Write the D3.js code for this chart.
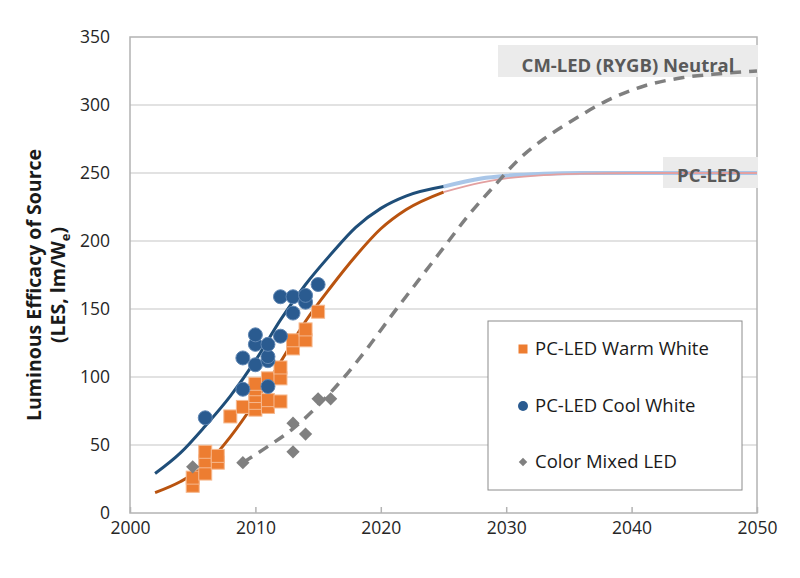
<!DOCTYPE html>
<html><head><meta charset="utf-8">
<script src="https://cdn.jsdelivr.net/npm/d3@7"></script>
<style>
html,body{margin:0;padding:0;background:#fff;}
svg{display:block;font-family:"Open Sans",sans-serif;}
</style></head>
<body><svg id="c" width="800" height="578"></svg>
<script>
// ---- data ----
const xTicks = [2000, 2010, 2020, 2030, 2040, 2050];
const yTicks = [0, 50, 100, 150, 200, 250, 300, 350];

const warmYears  = [2005,2005,2006,2006,2006,2007,2007,2008,2009,2010,2010,2010,2010,2010,2011,2011,2011,2012,2012,2012,2013,2013,2014,2014,2015];
const warmValues = [20,26,29,38,45,37,42,71,78,76,81,86,91,95,78,83,99,82,99,107,121,127,127,135,148];

const coolYears  = [2006,2009,2009,2010,2010,2010,2011,2011,2011,2011,2012,2012,2013,2013,2014,2014,2015];
const coolValues = [70,91,114,109,124,131,93,112,115,124,130,159,147,159,155,160,168];

const mixedYears  = [2005,2009,2013,2013,2014,2015,2016];
const mixedValues = [34,37,45,66,58,84,84];

const fitYears  = [2002,2004,2006,2008,2010,2012,2014,2016,2018,2020,2022,2025];
const coolFit   = [29,44,64,86,112,142,168,190,210,224,233,240];
const warmFit   = [15,23,35,56,82,111,141,166,189,209,223,236];

const extYears  = [2025,2028,2030,2033,2036,2040,2045,2050];
const coolExt   = [240,246,248,249.5,250,250,250,250];
const warmExt   = [236,243,246,248.5,249.5,250,250,250];

const mixedFitYears = [2009,2011,2013,2015,2017,2019,2021,2023,2025,2027,2029,2031,2033,2035,2038,2041,2044,2047,2050];
const mixedFit      = [37,49,62,79,99,122,147,171,195,219,240,260,275,287,303,314,320,323,325];

const legendLabels = ["PC-LED Warm White","PC-LED Cool White","Color Mixed LED"];

// ---- chart ----
const svg = d3.select("#c");
const L = 130, R = 757, T = 37, B = 513;
const x = d3.scaleLinear().domain([2000, 2050]).range([L, R]);
const y = d3.scaleLinear().domain([0, 350]).range([B, T]);

// grid
svg.append("g").selectAll("line").data(yTicks.filter(v => v > 0 && v < 350)).join("line")
  .attr("x1", L).attr("x2", R).attr("y1", d => y(d)).attr("y2", d => y(d))
  .attr("stroke", "#d9d9d9").attr("stroke-width", 1.5);

// border
svg.append("rect").attr("x", L).attr("y", T).attr("width", R - L).attr("height", B - T)
  .attr("fill", "none").attr("stroke", "#b3b3b3").attr("stroke-width", 1.5);

// axes
const gy = svg.append("g").attr("transform", `translate(${L},0)`)
  .call(d3.axisLeft(y).tickValues(yTicks).tickSize(0).tickPadding(20));
const gx = svg.append("g").attr("transform", `translate(0,${B})`)
  .call(d3.axisBottom(x).tickValues(xTicks).tickFormat(d3.format("d")).tickSizeInner(-6).tickSizeOuter(0).tickPadding(9));
[gx, gy].forEach(g => {
  g.select(".domain").remove();
  g.selectAll("text").attr("font-size", 17.5).attr("fill", "#262626").attr("font-family", "Open Sans");
  g.selectAll("line").attr("stroke", "#b3b3b3").attr("stroke-width", 1.5);
});

// y title
const yt = svg.append("text").attr("transform", "translate(41,285) rotate(-90)")
  .attr("text-anchor", "middle").attr("font-weight", "bold").attr("font-size", 19.5).attr("fill", "#1a1a1a");
yt.append("tspan").attr("x", 0).attr("y", 0).text("Luminous Efficacy of Source");
const t2 = yt.append("tspan").attr("x", 0).attr("y", 24);
t2.append("tspan").text("(LES, lm/W");
t2.append("tspan").attr("font-size", 13).attr("dy", 5).text("e");
t2.append("tspan").attr("dy", -5).text(")");

// annotation boxes
svg.append("rect").attr("x", 498).attr("y", 45).attr("width", 260).attr("height", 32).attr("fill", "#ebebeb");
svg.append("rect").attr("x", 663).attr("y", 157).attr("width", 95).attr("height", 31).attr("fill", "#ebebeb");

// lines
const line = d3.line().x(d => x(d[0])).y(d => y(d[1])).curve(d3.curveMonotoneX);
const zip = (a, b) => a.map((v, i) => [v, b[i]]);

svg.append("path").attr("d", line(zip(extYears, coolExt))).attr("fill", "none").attr("stroke", "#a9c6e8").attr("stroke-width", 4);
svg.append("path").attr("d", line(zip(extYears, warmExt))).attr("fill", "none").attr("stroke", "#e3a0a0").attr("stroke-width", 1.8);
svg.append("path").attr("d", line(zip(fitYears, coolFit))).attr("fill", "none").attr("stroke", "#1f4e79").attr("stroke-width", 3);
svg.append("path").attr("d", line(zip(fitYears, warmFit))).attr("fill", "none").attr("stroke", "#b9530f").attr("stroke-width", 3);
svg.append("path").attr("d", line(zip(mixedFitYears, mixedFit))).attr("fill", "none").attr("stroke", "#7f7f7f")
  .attr("stroke-width", 3.5).attr("stroke-dasharray", "11,8");

// annotation texts
svg.append("text").attr("x", 628).attr("y", 72).attr("text-anchor", "middle").attr("font-weight", "bold")
  .attr("font-size", 18.5).attr("fill", "#595959").text("CM-LED (RYGB) Neutral");
svg.append("text").attr("x", 709).attr("y", 182).attr("text-anchor", "middle").attr("font-weight", "bold")
  .attr("font-size", 18.5).attr("fill", "#595959").text("PC-LED");

// markers
const sq = 13;
svg.append("g").selectAll("rect").data(zip(warmYears, warmValues)).join("rect")
  .attr("x", d => x(d[0]) - sq / 2).attr("y", d => y(d[1]) - sq / 2).attr("width", sq).attr("height", sq)
  .attr("fill", "#ed7d31").attr("stroke", "#f6b88e").attr("stroke-width", 1);
svg.append("g").selectAll("circle").data(zip(coolYears, coolValues)).join("circle")
  .attr("cx", d => x(d[0])).attr("cy", d => y(d[1])).attr("r", 7)
  .attr("fill", "#2a5b90").attr("stroke", "#5f86b3").attr("stroke-width", 1);
const dia = d3.symbol().type(d3.symbolSquare).size(88);
svg.append("g").selectAll("path").data(zip(mixedYears, mixedValues)).join("path")
  .attr("d", dia).attr("transform", d => `translate(${x(d[0])},${y(d[1])}) rotate(45)`)
  .attr("fill", "#808080");

// legend
svg.append("rect").attr("x", 488).attr("y", 321).attr("width", 254).attr("height", 169)
  .attr("fill", "#fff").attr("stroke", "#8c8c8c").attr("stroke-width", 1);
const ly = [349, 406, 462];
svg.append("rect").attr("x", 523 - 4.5).attr("y", ly[0] - 4.5).attr("width", 9).attr("height", 9).attr("fill", "#ed7d31");
svg.append("circle").attr("cx", 523).attr("cy", ly[1]).attr("r", 5).attr("fill", "#2a5b90");
svg.append("path").attr("d", d3.symbol().type(d3.symbolSquare).size(36)).attr("transform", `translate(523,${ly[2]}) rotate(45)`).attr("fill", "#808080");
svg.append("g").selectAll("text").data(legendLabels).join("text")
  .attr("x", 535).attr("y", (d, i) => ly[i]).attr("dy", "0.35em")
  .attr("font-size", 18.5).attr("fill", "#1a1a1a").text(d => d);
</script></body></html>
